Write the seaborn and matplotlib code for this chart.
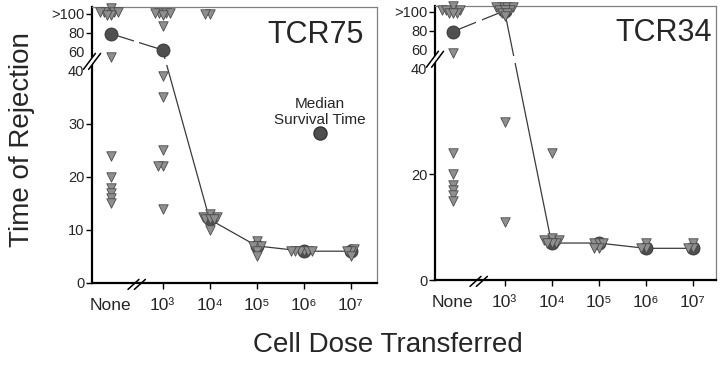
import numpy as np
import pandas as pd
import seaborn as sns
import matplotlib.pyplot as plt
from matplotlib.lines import Line2D

# Doses on the x axis (None, then 10^3 .. 10^7)
doses = ["None", "10³", "10⁴", "10⁵", "10⁶", "10⁷"]
dose_pos = [0, 1.1, 2.1, 3.1, 4.1, 5.1]

# Days to rejection per mouse (values above 100 are the ">100" group)
tcr75_mice = [
    [106, 102, 102, 102, 102, 99, 99, 55, 24, 20, 18, 17, 16, 15],
    [101, 101, 101, 101, 99, 87, 39, 35, 25, 22, 22, 14],
    [100, 100, 13, 12.5, 12.5, 12, 12, 12, 10],
    [8, 7, 7, 7, 6, 5],
    [6, 6, 6, 6, 6, 6],
    [6.5, 6, 6, 5],
]
tcr75_median = [79, 62, 12, 7, 6, 6]

tcr34_mice = [
    [106, 102, 102, 102, 99, 99, 99, 57, 24, 20, 18, 17, 16, 15],
    [105, 105, 105, 105, 102, 102, 102, 99, 99, 96, 30, 11],
    [24, 8, 7.5, 7.5, 7, 7, 7],
    [7, 7, 7, 6, 6],
    [7, 6, 6],
    [7, 6, 6],
]
tcr34_median = [79, 101, 7, 7, 6, 6]

SQUEEZE = 0.18  # compression of the axis above the break at 40


def fwd(y):
    y = np.asarray(y, dtype=float)
    return np.where(y <= 40, y, 40 + (y - 40) * SQUEEZE)


def inv(y):
    y = np.asarray(y, dtype=float)
    return np.where(y <= 40, y, 40 + (y - 40) / SQUEEZE)


TRI_FILL = "#8f8f8f"
TRI_EDGE = "#4a4a4a"
CIRC_FILL = "#4f4f4f"
CIRC_EDGE = "#333333"

sns.set_style("ticks")
plt.rcParams["font.family"] = ["Liberation Sans", "DejaVu Sans"]


def to_frame(mice):
    rows = [(p, d) for p, vals in zip(dose_pos, mice) for d in vals]
    return pd.DataFrame(rows, columns=["pos", "days"])


def slash_pair(ax, xf, yf, dx, dy, gap, cut):
    # two parallel slashes in axes fraction, sizes given in pixels
    bb = ax.get_position()
    wpx, hpx = bb.width * 720, bb.height * 367
    ddx, ddy, g = dx / wpx, dy / hpx, gap / wpx
    if cut:
        poly = plt.Polygon(
            [(xf - ddx - g, yf - ddy), (xf + ddx - g, yf + ddy),
             (xf + ddx + g, yf + ddy), (xf - ddx + g, yf - ddy)],
            closed=True, transform=ax.transAxes, color="white",
            clip_on=False, zorder=10, lw=0)
        ax.add_patch(poly)
    for s in (-g, g):
        ax.plot([xf - ddx + s, xf + ddx + s], [yf - ddy, yf + ddy],
                transform=ax.transAxes, color="black", lw=1.1,
                clip_on=False, zorder=11)


def draw_panel(ax, mice, median, title, yticks, ylabels, ylim_top, xlim):
    ax.set_yscale("function", functions=(fwd, inv))

    sns.lineplot(x=dose_pos, y=median, ax=ax, color="#3a3a3a", lw=0.9,
                 sort=False, zorder=2)
    # white gaps where the axes are broken
    ax.axvspan(0.49, 0.61, color="white", lw=0, zorder=2.2)
    ax.axhspan(46, 53, color="white", lw=0, zorder=2.2)

    sns.scatterplot(x=dose_pos, y=median, ax=ax, s=88, color=CIRC_FILL,
                    edgecolor=CIRC_EDGE, linewidth=0.6, zorder=3)
    # swarm laid out with small markers so the triangles overlap later
    sns.swarmplot(data=to_frame(mice), x="pos", y="days", native_scale=True,
                  orient="x", ax=ax, marker="v", size=2.2, color=TRI_FILL,
                  edgecolor=TRI_EDGE, linewidth=0.6, zorder=4, warn_thresh=1)

    ax.set_xlim(*xlim)
    ax.set_ylim(0, ylim_top)
    ax.set_xticks(dose_pos)
    ax.set_xticklabels(doses, fontsize=12.5)
    ax.set_yticks(yticks)
    ax.set_yticklabels(ylabels, fontsize=10.5)
    ax.set_xlabel("")
    ax.set_ylabel("")
    ax.tick_params(axis="both", length=4, width=1, color="black")
    ax.tick_params(axis="x", pad=7)
    ax.tick_params(axis="y", pad=1.5)
    ax.xaxis.get_major_ticks()[0].tick1line.set_visible(False)
    for t, v in zip(ax.yaxis.get_major_ticks(), yticks):
        if v in (40, 60):
            t.tick1line.set_visible(False)

    for side in ("top", "right"):
        ax.spines[side].set_color("#808080")
        ax.spines[side].set_linewidth(0.9)
    for side in ("left", "bottom"):
        ax.spines[side].set_color("black")
        ax.spines[side].set_linewidth(1.6)

    ax.text(0.955, 0.9, title, transform=ax.transAxes, ha="right",
            va="center", fontsize=22)

    yb = fwd(50) / fwd(ylim_top)
    slash_pair(ax, 0.0, float(yb), 6, 8, 2.6, True)
    xb = (0.55 - xlim[0]) / (xlim[1] - xlim[0])
    slash_pair(ax, xb, -0.005, 5.5, 5, 3.2, False)


fig = plt.figure(figsize=(7.2, 3.67), dpi=100)
ax1 = fig.add_axes([92 / 720, 84 / 367, 285 / 720, 276 / 367])
ax2 = fig.add_axes([435 / 720, 87 / 367, 281 / 720, 274 / 367])

draw_panel(ax1, tcr75_mice, tcr75_median, "TCR75",
           [0, 10, 20, 30, 40, 60, 80, 100],
           ["0", "10", "20", "30", "40", "60", "80", ">100"], 107, (-0.40, 5.66))
draw_panel(ax2, tcr34_mice, tcr34_median, "TCR34",
           [0, 20, 40, 60, 80, 100],
           ["0", "20", "40", "60", "80", ">100"], 106, (-0.38, 5.6))
ax2.texts[0].set_x(0.985)

# legend for the median marker
handle = Line2D([], [], marker="o", ls="", markersize=9.4,
                markerfacecolor=CIRC_FILL, markeredgecolor=CIRC_EDGE)
leg = ax1.legend([handle], [""], title="Median\nSurvival Time",
                 loc="upper center", bbox_to_anchor=(0.8, 0.7),
                 frameon=False, handlelength=1.0, handletextpad=0,
                 title_fontsize=11, borderpad=0, labelspacing=0)
leg.get_title().set_multialignment("center")

fig.text(22 / 720, 0.62, "Time of Rejection", rotation=90, ha="center",
         va="center", fontsize=20)
fig.text(388 / 720, 22 / 367, "Cell Dose Transferred", ha="center",
         va="center", fontsize=20)

# freeze the swarm layout, then draw the triangles at full size
fig.canvas.draw()
for ax in (ax1, ax2):
    for coll in ax.collections:
        if "draw" in vars(coll):
            del coll.draw
            coll.set_sizes([6.8 ** 2])
            coll.set_clip_on(False)

fig.savefig("out.png", dpi=100)
